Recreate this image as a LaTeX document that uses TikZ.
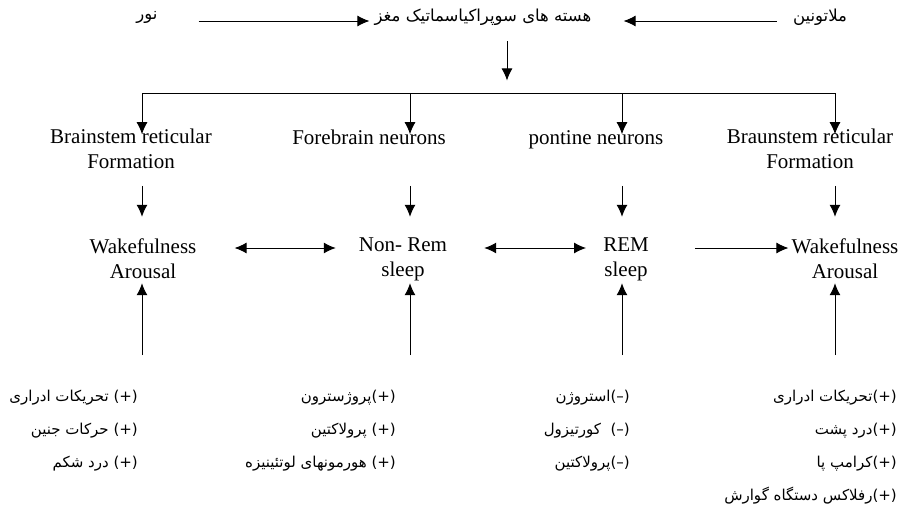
\documentclass[tikz,border=0pt]{standalone}
\usepackage{fontspec}
\setmainfont{Liberation Serif}
\newfontfamily\farsi[Script=Arabic]{DejaVu Sans}
\TeXXeTstate=1
\newcommand\faline[1]{\beginR#1\endR}
\usetikzlibrary{arrows.meta,positioning,calc}

\begin{document}
\begin{tikzpicture}[
  x=1pt, y=-1pt,
  en/.style={font=\fontsize{21}{25}\selectfont, align=center, inner sep=0pt},
  fa/.style={font=\farsi\fontsize{15}{33}\selectfont, inner sep=0pt},
  fatop/.style={font=\farsi\fontsize{16.5}{20}\selectfont, inner sep=0pt},
  blk/.style={fa, align=right, anchor=north east},
  arr/.style={-{Latex[length=12pt,width=11pt]}, line width=1pt},
  darr/.style={{Latex[length=12pt,width=11pt]}-{Latex[length=12pt,width=11pt]}, line width=1pt}
]
  \useasboundingbox (0,0) rectangle (906,504);

  % top row
  \node[fatop] (nur) at (147,17) {\faline{نور}};
  \node[fatop] (scn) at (483,17) {\faline{هسته های سوپراکیاسماتیک مغز}};
  \node[fatop] (mel) at (820,17) {\faline{ملاتونین}};
  \draw[arr] ($(nur.east)+(41,4)$) -- ($(scn.west)+(-5,4)$);
  \draw[arr] ($(mel.west)+(-16,4)$) -- ($(scn.east)+(32,4)$);
  \draw[arr] ($(scn.south)+(24,16)$) -- ($(scn.south)+(24,55)$);

  % branch bar
  \foreach \i/\x in {1/142,2/410,3/622,4/835}
    \coordinate (col\i) at (\x,93);
  \draw[line width=1pt] (col1) -- (col4);

  % neurons
  \node[en] (bs) at (131,149) {Brainstem reticular\\Formation};
  \node[en, anchor=base] (fb) at (369,144) {Forebrain neurons};
  \node[en, anchor=base] (pn) at (596,144) {pontine neurons};
  \node[en] (br) at (810,149) {Braunstem reticular\\Formation};
  \foreach \i in {1,...,4}
    \draw[arr] (col\i) -- ($(col\i |- fb.north)+(0,5)$);

  % states
  \node[en] (wa1) at (143,259) {Wakefulness\\Arousal};
  \node[en] (nr)  at (403,259) {Non- Rem\\sleep};
  \node[en] (rem) at (626,259) {REM\\sleep};
  \node[en] (wa2) at (845,259) {Wakefulness\\Arousal};
  \foreach \i in {1,...,4}
    \draw[arr] ($(col\i |- wa1.north)+(0,-53)$) -- ($(col\i |- wa1.north)+(0,-22)$);
  \draw[darr] ($(wa1.east)+(38,-11)$) -- ($(nr.west)+(-23,-11)$);
  \draw[darr] ($(nr.east)+(37,-11)$) -- ($(rem.west)+(-17,-11)$);
  \draw[arr] ($(rem.east)+(46,-11)$) -- ($(wa2.west)+(-3,-11)$);

  % factors
  \node[blk] (f1) at (138,390) {\faline{(+) تحریکات ادراری}\\\faline{(+) حرکات جنین}\\\faline{(+) درد شکم}};
  \node[blk] (f2) at (396,390) {\faline{(+)پروژسترون}\\\faline{(+) پرولاکتین}\\\faline{(+) هورمونهای لوتئینیزه}};
  \node[blk] (f3) at (630,390) {\faline{(–)استروژن}\\\faline{(–)\ \ کورتیزول}\\\faline{(–)پرولاکتین}};
  \node[blk] (f4) at (897,390) {\faline{(+)تحریکات ادراری}\\\faline{(+)درد پشت}\\\faline{(+)کرامپ پا}\\\faline{(+)رفلاکس دستگاه گوارش}};
  \foreach \i in {1,...,4}
    \draw[arr] ($(col\i |- f1.north)+(0,-35)$) -- ($(col\i |- wa1.south)+(0,4)$);
\end{tikzpicture}
\end{document}
